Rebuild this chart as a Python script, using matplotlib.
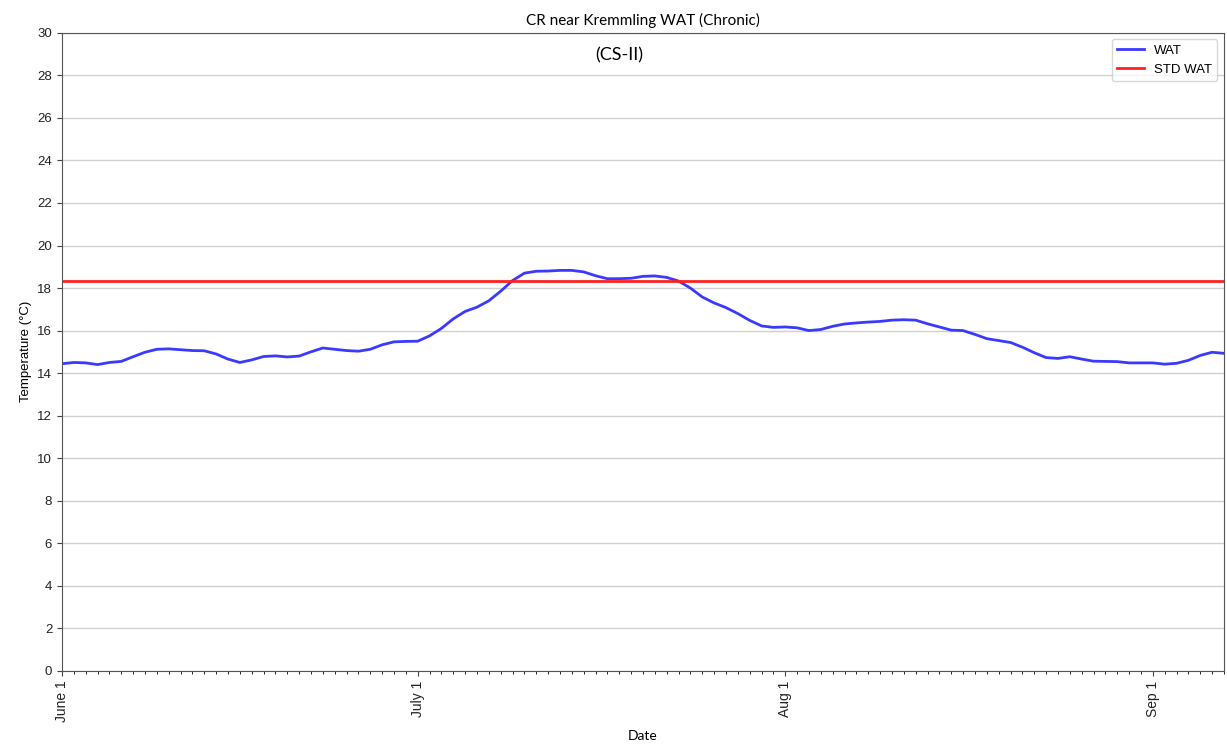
import matplotlib
matplotlib.use("Agg")
import matplotlib.pyplot as plt
import matplotlib.dates as mdates
import pandas as pd
import numpy as np

plt.rcParams["font.family"] = ["Liberation Sans", "DejaVu Sans"]

# daily 7-day average temperature, June 1 .. Sep 7
start_date = "2021-06-01"
wat = [14.44, 14.50, 14.48, 14.40, 14.50, 14.55, 14.77, 14.98, 15.12, 15.14,
       15.10, 15.06, 15.05, 14.90, 14.66, 14.50, 14.62, 14.78, 14.81, 14.76,
       14.80, 15.00, 15.18, 15.12, 15.06, 15.03, 15.12, 15.33, 15.47, 15.49,
       15.50, 15.75, 16.10, 16.55, 16.90, 17.10, 17.40, 17.85, 18.35, 18.70,
       18.79, 18.80, 18.83, 18.83, 18.76, 18.58, 18.44, 18.44, 18.46, 18.55,
       18.57, 18.50, 18.33, 18.00, 17.58, 17.30, 17.08, 16.80, 16.48, 16.22,
       16.15, 16.17, 16.13, 16.00, 16.05, 16.20, 16.31, 16.36, 16.40, 16.43,
       16.49, 16.51, 16.49, 16.32, 16.17, 16.02, 16.00, 15.82, 15.62, 15.53,
       15.44, 15.22, 14.96, 14.73, 14.69, 14.77, 14.66, 14.56, 14.55, 14.54,
       14.48, 14.48, 14.48, 14.42, 14.46, 14.60, 14.83, 14.98, 14.93]
std_wat = 18.35
month_ticks = ["2021-06-01", "2021-07-01", "2021-08-01", "2021-09-01"]
month_labels = ["June 1", "July 1", "Aug 1", "Sep 1"]

dates = pd.date_range(start_date, periods=len(wat), freq="D")

fig = plt.figure(figsize=(12.27, 7.47), dpi=100)
ax = fig.add_axes([0.0505, 0.102, 0.947, 0.854])

ax.plot(dates, wat, color="#3a3aff", lw=2, label="WAT")
ax.axhline(std_wat, color="#ff2020", lw=2, label="STD WAT")

ax.set_ylim(0, 30)
ax.set_yticks(np.arange(0, 31, 2))
ax.set_xlim(dates[0], dates[-1])
ax.set_xticks(pd.to_datetime(month_ticks))
ax.set_xticklabels(month_labels, rotation=90, fontsize=10)
ax.xaxis.set_minor_locator(mdates.DayLocator())
ax.tick_params(axis="both", colors="#444444", labelcolor="#222222")
ax.tick_params(axis="y", labelsize=9.5)
for s in ax.spines.values():
    s.set_color("#555555")
ax.grid(axis="y", color="#d0d0d0", lw=1)
ax.set_axisbelow(True)

ax.set_title("CR near Kremmling WAT (Chronic)", fontsize=11, family="Lato", pad=6)
ax.text(0.48, 0.977, "(CS-II)", transform=ax.transAxes, fontsize=13,
        family="Lato", ha="center", va="top")
ax.set_xlabel("Date", fontsize=10, family="Lato", labelpad=6)
ax.set_ylabel("Temperature (°C)", fontsize=9.5)

ax.legend(loc="upper right", fontsize=9.5)

fig.savefig("out.png", dpi=100)
